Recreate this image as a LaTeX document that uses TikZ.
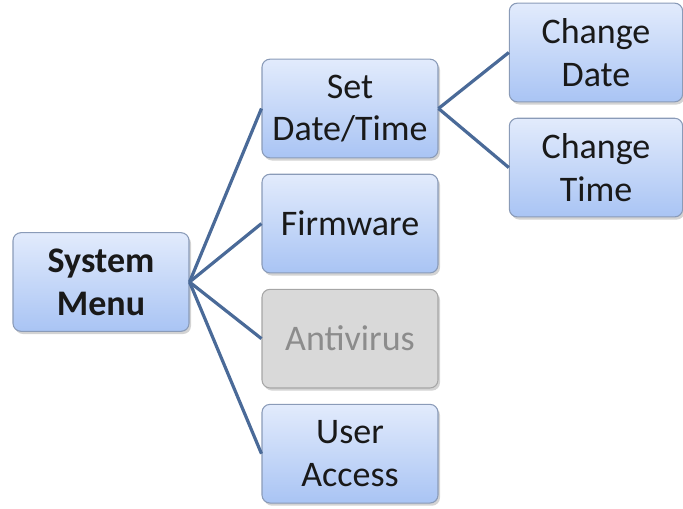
\documentclass[tikz,border=0pt]{standalone}
\usepackage{fontspec}
\setmainfont{Carlito}
\usepackage{xcolor}
\usetikzlibrary{positioning,shadows}

\definecolor{boxtop}{HTML}{E2EBFC}
\definecolor{boxbot}{HTML}{A9C4F4}
\definecolor{boxline}{HTML}{8A9BB8}
\definecolor{linkblue}{HTML}{4A6A98}
\definecolor{offfill}{HTML}{D9D9D9}
\definecolor{offtext}{HTML}{8C8C8C}

\begin{document}
\begin{tikzpicture}[
    x=0.75pt, y=-0.75pt,
    node distance=11.5pt,
    menubox/.style={rectangle, draw=boxline, line width=0.8pt, rounded corners=6pt,
      top color=boxtop, bottom color=boxbot, minimum width=132pt, minimum height=74pt,
      align=center, font=\fontsize{27}{32}\selectfont, text=black!90,
      drop shadow={opacity=0.35, shadow xshift=1.5pt, shadow yshift=-2pt}},
    offbox/.style={menubox, top color=offfill, bottom color=offfill, draw=gray!70, text=offtext},
    link/.style={draw=linkblue, line width=2.4pt}
]
\useasboundingbox (0,0) rectangle (683,508);

\node[menubox, font=\bfseries\fontsize{27}{32}\selectfont] (sys) at (101,282) {System\\Menu};

\node[menubox] (sdt) at (350,108.5) {Set\\Date/Time};
\node[menubox, below=of sdt] (fw) {Firmware};
\node[offbox, below=of fw] (av) {Antivirus};
\node[menubox, below=of av] (ua) {User\\Access};

\node[menubox, minimum width=130pt] (cd) at (596,52.5) {Change\\Date};
\node[menubox, minimum width=130pt, below=of cd] (ct) {Change\\Time};

\foreach \b in {sdt, fw, av, ua}
  \draw[link] (sys.east) -- (\b.west);
\foreach \b in {cd, ct}
  \draw[link] (sdt.east) -- (\b.west);
\end{tikzpicture}
\end{document}
